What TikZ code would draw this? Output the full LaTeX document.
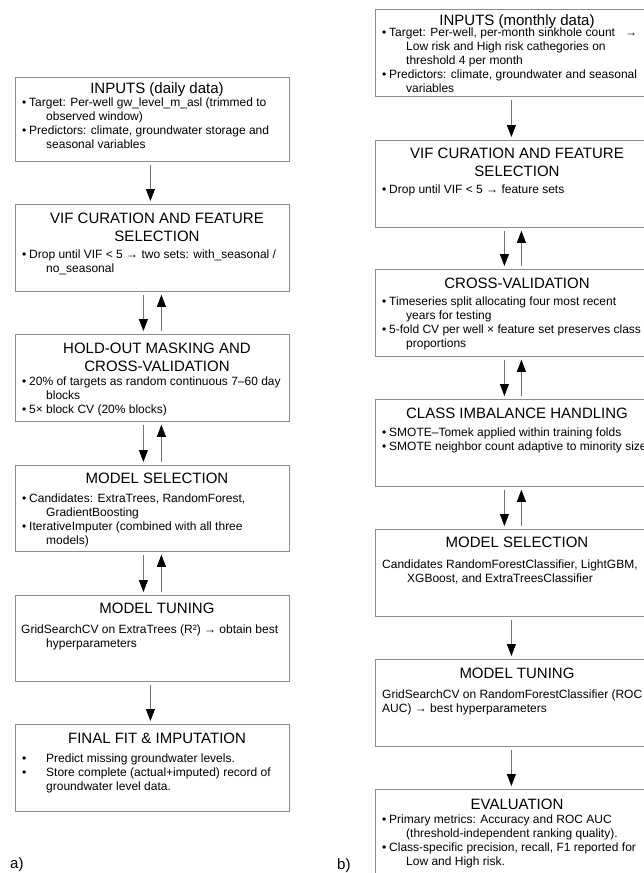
\documentclass[tikz,border=0pt]{standalone}
\usepackage{fontspec}
\setmainfont{Liberation Sans}
\usetikzlibrary{arrows.meta}

\newcommand{\bullitem}[2][7pt]{\par\hangindent=24pt\hangafter=1\makebox[#1][l]{\textbullet}#2\par}
\newcommand{\plainitem}[2][25pt]{\par\hangindent=#1\hangafter=1 #2\par}
\newcommand{\bodytext}[1]{\begin{minipage}[t]{300pt}\raggedright#1\end{minipage}}
\newcommand{\twolines}[2]{\begin{minipage}[t]{274pt}\centering#1\\#2\end{minipage}}

\tikzset{
    stage/.style={draw=black!45, line width=0.8pt, anchor=north west, minimum width=274pt, minimum height=87pt, inner sep=0pt},
    head/.style={anchor=base, inner sep=0pt, font=\fontsize{15}{18}\selectfont},
    body/.style={anchor=base west, inner sep=0pt, font=\fontsize{12}{14}\selectfont},
    flow/.style={draw=black!55, line width=0.8pt, -{Triangle[color=black, length=12pt, width=9pt]}, shorten <=3pt, shorten >=3pt},
    tag/.style={anchor=base west, inner sep=0pt, font=\fontsize{15}{18}\selectfont}
}

\begin{document}
\begin{tikzpicture}[x=1pt, y=-1pt]

            \useasboundingbox (0,0) rectangle (643,873);

            \node[stage, minimum height=84pt] (L1) at (15,77) {};
            \node[stage] (L2) at (15,204) {};
            \node[stage] (L3) at (15,334) {};
            \node[stage, minimum height=86pt] (L4) at (15,465) {};
            \node[stage, minimum height=86pt] (L5) at (15,595) {};
            \node[stage] (L6) at (15,724) {};

            \node[head] (L1h) at (157,93) {INPUTS (daily data)};
            \node[body] (L1b) at (22,106) {\bodytext{\bullitem{Target: Per-well gw\_level\_m\_asl (trimmed to\newline observed window)}\bullitem{Predictors: climate, groundwater storage and\newline seasonal variables}}};
            \node[head] (L2h) at (157,223) {\twolines{VIF CURATION AND FEATURE}{SELECTION}};
            \node[body] (L2b) at (22,258) {\bodytext{\bullitem{Drop until VIF < 5 → two sets: with\_seasonal /\newline no\_seasonal}}};
            \node[head] (L3h) at (157,353) {\twolines{HOLD-OUT MASKING AND}{CROSS-VALIDATION}};
            \node[body] (L3b) at (22,385) {\bodytext{\bullitem{20\% of targets as random continuous 7–60 day\newline blocks}\bullitem{5× block CV (20\% blocks)}}};
            \node[head] (L4h) at (157,483) {MODEL SELECTION};
            \node[body] (L4b) at (22,502) {\bodytext{\bullitem{Candidates: ExtraTrees, RandomForest,\newline GradientBoosting}\bullitem{IterativeImputer (combined with all three\newline models)}}};
            \node[head] (L5h) at (157,613) {MODEL TUNING};
            \node[body] (L5b) at (21,633) {\bodytext{\plainitem{GridSearchCV on ExtraTrees (R²) → obtain best\newline hyperparameters}}};
            \node[head] (L6h) at (157,743) {FINAL FIT \& IMPUTATION};
            \node[body] (L6b) at (22,762) {\bodytext{\bullitem[24pt]{Predict missing groundwater levels.}\bullitem[24pt]{Store complete (actual+imputed) record of\newline groundwater level data.}}};

            \node[stage] (R1) at (375,9) {};
            \node[stage] (R2) at (375,140) {};
            \node[stage] (R3) at (375,269) {};
            \node[stage] (R4) at (375,399) {};
            \node[stage] (R5) at (375,529) {};
            \node[stage] (R6) at (375,659) {};
            \node[stage] (R7) at (375,789) {};

            \node[head] (R1h) at (517,25) {INPUTS (monthly data)};
            \node[body] (R1b) at (382,36) {\bodytext{\bullitem{Target: Per-well, per-month sinkhole count \ \ →\newline Low risk and High risk cathegories on\newline threshold 4 per month}\bullitem{Predictors: climate, groundwater and seasonal\newline variables}}};
            \node[head] (R2h) at (517,158) {\twolines{VIF CURATION AND FEATURE}{SELECTION}};
            \node[body] (R2b) at (382,193) {\bodytext{\bullitem{Drop until VIF < 5 → feature sets}}};
            \node[head] (R3h) at (517,288) {CROSS-VALIDATION};
            \node[body] (R3b) at (382,305) {\bodytext{\bullitem{Timeseries split allocating four most recent\newline years for testing}\bullitem{5-fold CV per well × feature set preserves class\newline proportions}}};
            \node[head] (R4h) at (517,418) {CLASS IMBALANCE HANDLING};
            \node[body] (R4b) at (382,436) {\bodytext{\bullitem{SMOTE–Tomek applied within training folds}\bullitem{SMOTE neighbor count adaptive to minority size}}};
            \node[head] (R5h) at (517,547) {MODEL SELECTION};
            \node[body] (R5b) at (382,568) {\bodytext{\plainitem{Candidates RandomForestClassifier, LightGBM,\newline XGBoost, and ExtraTreesClassifier}}};
            \node[head] (R6h) at (517,678) {MODEL TUNING};
            \node[body] (R6b) at (382,698) {\bodytext{\plainitem[0pt]{GridSearchCV on RandomForestClassifier (ROC\newline AUC) → best hyperparameters}}};
            \node[head] (R7h) at (517,809) {EVALUATION};
            \node[body] (R7b) at (382,823) {\bodytext{\bullitem{Primary metrics: Accuracy and ROC AUC\newline (threshold-independent ranking quality).}\bullitem{Class-specific precision, recall, F1 reported for\newline Low and High risk.}}};

            \node[tag] (a) at (10,868) {a)};
            \node[tag] (b) at (337,869) {b)};

            \draw[flow] ([xshift=-2pt]L1.south) -- ([xshift=-2pt]L2.north);
            \draw[flow] ([xshift=-9pt]L2.south) -- ([xshift=-9pt]L3.north);
            \draw[flow] ([xshift=9pt]L3.north) -- ([xshift=9pt]L2.south);
            \draw[flow] ([xshift=-9pt]L3.south) -- ([xshift=-9pt]L4.north);
            \draw[flow] ([xshift=9pt]L4.north) -- ([xshift=9pt]L3.south);
            \draw[flow] ([xshift=-9pt]L4.south) -- ([xshift=-9pt]L5.north);
            \draw[flow] ([xshift=9pt]L5.north) -- ([xshift=9pt]L4.south);
            \draw[flow] ([xshift=-2pt]L5.south) -- ([xshift=-2pt]L6.north);

            \draw[flow] ([xshift=-1pt]R1.south) -- ([xshift=-1pt]R2.north);
            \draw[flow] ([xshift=-8pt]R2.south) -- ([xshift=-8pt]R3.north);
            \draw[flow] ([xshift=9pt]R3.north) -- ([xshift=9pt]R2.south);
            \draw[flow] ([xshift=-8pt]R3.south) -- ([xshift=-8pt]R4.north);
            \draw[flow] ([xshift=9pt]R4.north) -- ([xshift=9pt]R3.south);
            \draw[flow] ([xshift=-8pt]R4.south) -- ([xshift=-8pt]R5.north);
            \draw[flow] ([xshift=9pt]R5.north) -- ([xshift=9pt]R4.south);
            \draw[flow] ([xshift=-1pt]R5.south) -- ([xshift=-1pt]R6.north);
            \draw[flow] ([xshift=-1pt]R6.south) -- ([xshift=-1pt]R7.north);
\end{tikzpicture}
\end{document}
